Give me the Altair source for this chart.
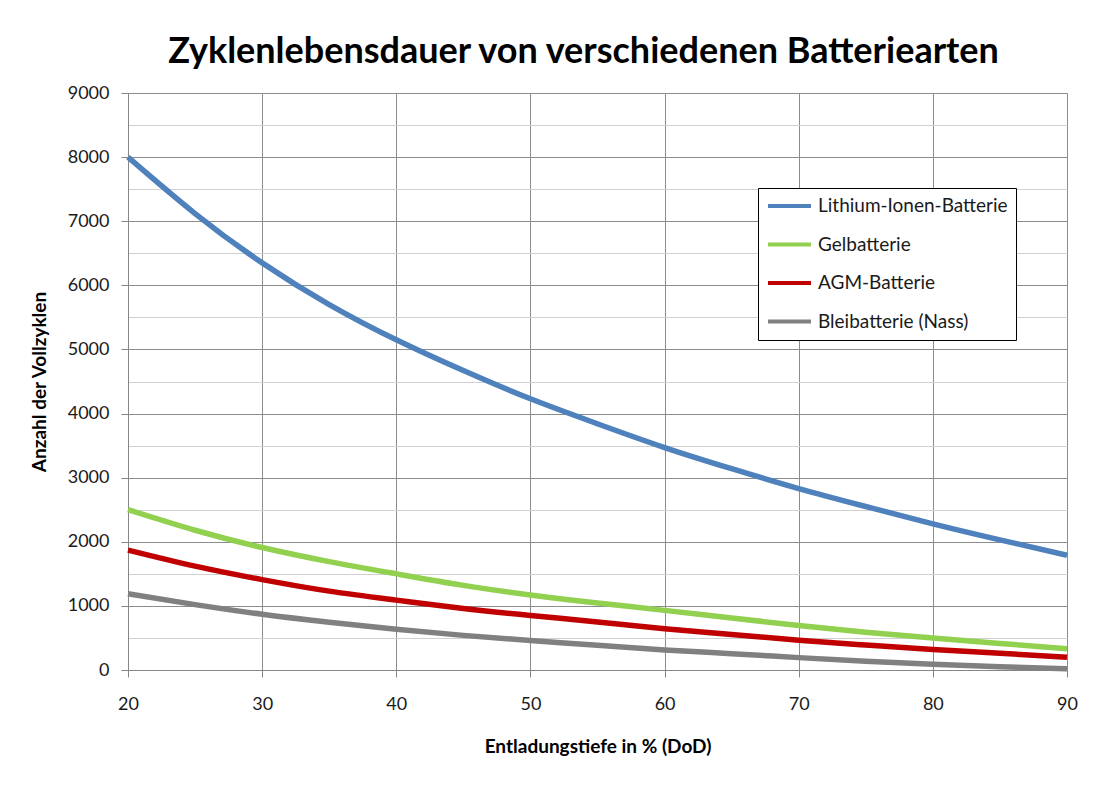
import altair as alt
import pandas as pd

# Entladungstiefe (DoD) in %
dod = [20, 25, 30, 35, 40, 45, 50, 55, 60, 65, 70, 75, 80, 85, 90]

lithium = [8000, 7120, 6350, 5700, 5150, 4670, 4230, 3840, 3470, 3140, 2830, 2550, 2280, 2030, 1790]
gel = [2500, 2180, 1910, 1690, 1500, 1320, 1170, 1045, 930, 810, 695, 590, 500, 415, 330]
agm = [1870, 1620, 1410, 1230, 1090, 960, 850, 750, 645, 555, 465, 390, 320, 260, 200]
blei = [1190, 1020, 870, 745, 635, 540, 460, 385, 312, 255, 193, 137, 90, 52, 20]

series_names = ["Lithium-Ionen-Batterie", "Gelbatterie", "AGM-Batterie", "Bleibatterie (Nass)"]
series_colors = ["#4F81BD", "#92D050", "#C00000", "#808080"]

x_ticks = [20, 30, 40, 50, 60, 70, 80, 90]
y_ticks = [0, 500, 1000, 1500, 2000, 2500, 3000, 3500, 4000, 4500, 5000,
           5500, 6000, 6500, 7000, 7500, 8000, 8500, 9000]

rows = []
for name, vals in zip(series_names, [lithium, gel, agm, blei]):
    for x, v in zip(dod, vals):
        rows.append({"DoD": x, "Zyklen": v, "Batterie": name})
df = pd.DataFrame(rows)

FONT = "Lato"

chart = alt.Chart(df).mark_line(strokeWidth=5.5, interpolate="natural").encode(
    x=alt.X(
        "DoD:Q",
        scale=alt.Scale(domain=[20, 90], nice=False, zero=False),
        axis=alt.Axis(
            values=x_ticks,
            title="Entladungstiefe in % (DoD)",
            titleFont=FONT,
            titleFontSize=19,
            titleFontWeight="bold",
            titleColor="#000000",
            titlePadding=24,
            labelFont=FONT,
            labelFontSize=18,
            labelColor="#1a1a1a",
            labelPadding=18,
            labelFlush=False,
            tickSize=7,
            tickColor="#868686",
            domainColor="#868686",
            gridColor="#8c8c8c",
            gridWidth=1,
        ),
    ),
    y=alt.Y(
        "Zyklen:Q",
        scale=alt.Scale(domain=[0, 9000], nice=False),
        axis=alt.Axis(
            values=y_ticks,
            format="d",
            labelExpr="datum.value % 1000 === 0 ? datum.label : ''",
            title="Anzahl der Vollzyklen",
            titleFont=FONT,
            titleFontSize=19,
            titleFontWeight="bold",
            titleColor="#000000",
            titlePadding=18,
            labelFont=FONT,
            labelFontSize=18,
            labelColor="#1a1a1a",
            labelPadding=12,
            tickSize=7,
            tickColor={"condition": {"test": "datum.value % 1000 === 0", "value": "#868686"}, "value": "transparent"},
            domainColor="#868686",
            gridColor={"condition": {"test": "datum.value % 1000 === 0", "value": "#8c8c8c"}, "value": "#d0d0d0"},
            gridWidth=1,
        ),
    ),
    color=alt.Color(
        "Batterie:N",
        scale=alt.Scale(domain=series_names, range=series_colors),
        legend=alt.Legend(
            title=None,
            orient="none",
            legendX=630,
            legendY=95,
            symbolType="stroke",
            symbolSize=1849,
            symbolStrokeWidth=4,
            clipHeight=20,
            labelFont=FONT,
            labelFontSize=19,
            labelColor="#1a1a1a",
            labelOffset=5,
            rowPadding=18.5,
            padding=8,
            strokeColor="#000000",
            fillColor="#ffffff",
            labelLimit=300,
        ),
    ),
).properties(
    width=939,
    height=577,
    title=alt.TitleParams(
        "Zyklenlebensdauer von verschiedenen Batteriearten",
        font=FONT,
        fontSize=36,
        fontWeight="bold",
        color="#000000",
        anchor="middle",
        offset=13,
        dx=-14,
    ),
    autosize=alt.AutoSizeParams(type="none"),
    padding={"left": 120, "top": 85, "right": 43, "bottom": 109},
).configure_view(stroke=None).configure(background="#ffffff")

chart.save("out.html", embed_options={"renderer": "svg", "actions": False})
